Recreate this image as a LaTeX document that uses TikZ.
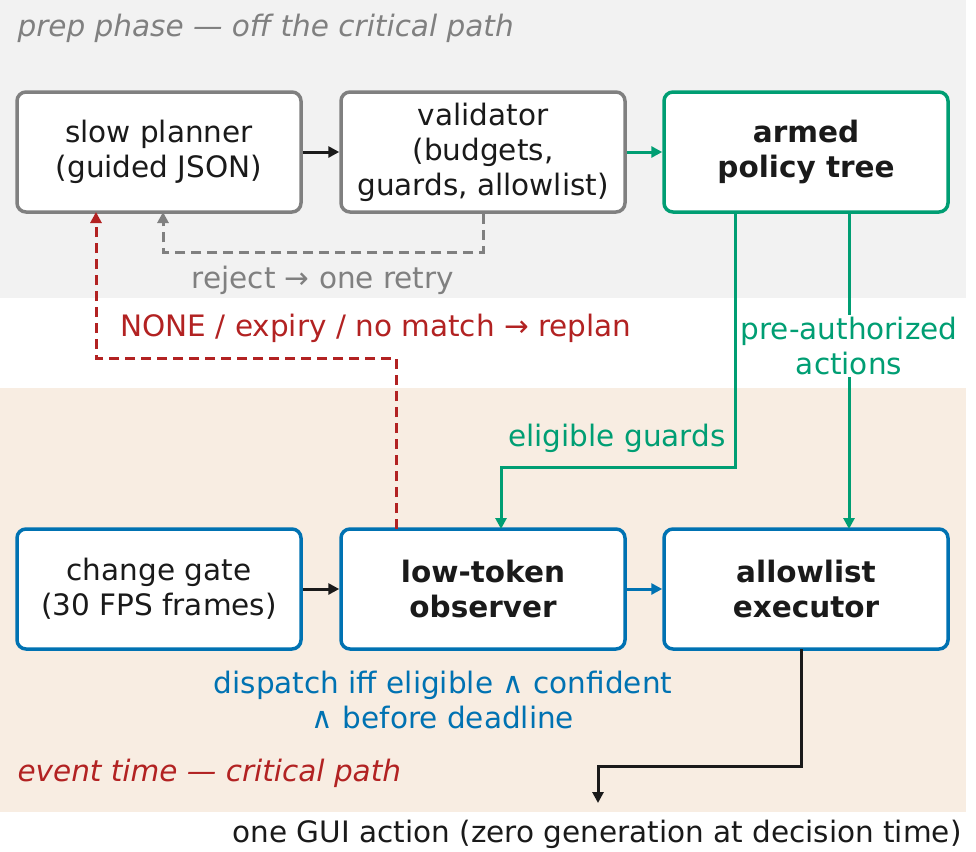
\documentclass[tikz,border=0pt]{standalone}
\usepackage{fontspec}
\setmainfont{DejaVu Sans}
\usetikzlibrary{arrows.meta}
\definecolor{bandgrey}{HTML}{F2F2F2}
\definecolor{bandtan}{HTML}{F8EDE2}
\definecolor{boxgrey}{HTML}{808080}
\definecolor{okgreen}{HTML}{009E73}
\definecolor{obsblue}{HTML}{0072B2}
\definecolor{replanred}{HTML}{B22222}
\definecolor{inkblack}{HTML}{1A1A1A}
\newcommand{\bigtxt}{\fontsize{29.5}{35}\selectfont}
\tikzset{
  stagebox/.style={draw, line width=3.5pt, rounded corners=9pt, fill=white,
    minimum width=284pt, minimum height=120pt, align=center, text=inkblack},
  flow/.style={line width=3pt, -{Triangle[length=11pt,width=11pt]}},
  lbl/.style={align=center, font=\bigtxt}
}
\begin{document}
\begin{tikzpicture}[x=1pt,y=-1pt, every node/.style={font=\bigtxt}]
\useasboundingbox (0,0) rectangle (976,851);
% bands
\fill[bandgrey] (0,0) rectangle (966,298);
\fill[bandtan] (0,388) rectangle (966,812);
\node[anchor=west, text=boxgrey, font=\bigtxt\itshape] (prep) at (14,28) {prep phase — off the critical path};
\node[anchor=west, text=replanred, font=\bigtxt\itshape] (evt) at (14,773) {event time — critical path};
% prep row
\node[stagebox, draw=boxgrey] (planner) at (159,152) {slow planner\\(guided JSON)};
\node[stagebox, draw=boxgrey] (validator) at (483,152) {validator\\(budgets,\\guards, allowlist)};
\node[stagebox, draw=okgreen, font=\bigtxt\bfseries] (tree) at (806,152) {armed\\policy tree};
% event row
\node[stagebox, draw=obsblue] (gate) at (159,589) {change gate\\(30 FPS frames)};
\node[stagebox, draw=obsblue, font=\bigtxt\bfseries] (observer) at (483,589) {low-token\\observer};
\node[stagebox, draw=obsblue, font=\bigtxt\bfseries] (executor) at (806,589) {allowlist\\executor};
\coordinate (out) at (598,803);
\node[text=inkblack] (gui) at (597,834) {one GUI action (zero generation at decision time)};
% connectors
\draw[flow, inkblack] (planner) -- (validator);
\draw[flow, okgreen] (validator) -- (tree);
\draw[flow, inkblack] (gate) -- (observer);
\draw[flow, obsblue] (observer) -- (executor);
\draw[flow, boxgrey, dash pattern=on 10pt off 6pt] (validator.south) |- (163,252) -- (163,212);
\node[text=boxgrey] (retry) at (323,280) {reject → one retry};
\draw[flow, replanred, dash pattern=on 10pt off 6pt] (396,529) |- (96,358) -- (96,212);
\node[text=replanred] (replan) at (376,328) {NONE / expiry / no match → replan};
\draw[flow, okgreen] (735,212) |- (501,467) -- (501,529);
\node[text=okgreen] (guards) at (617,438) {eligible guards};
\draw[flow, okgreen] (849,212) -- (849,529);
\node[lbl, text=okgreen, fill=white, inner sep=2pt] (preauth) at (849,346) {pre-authorized\\actions};
\draw[flow, inkblack] (801,649) |- (598,766) -- (out);
\node[lbl, text=obsblue] (dispatch) at (443,700) {dispatch iff eligible ∧ confident\\∧ before deadline};
\end{tikzpicture}
\end{document}
